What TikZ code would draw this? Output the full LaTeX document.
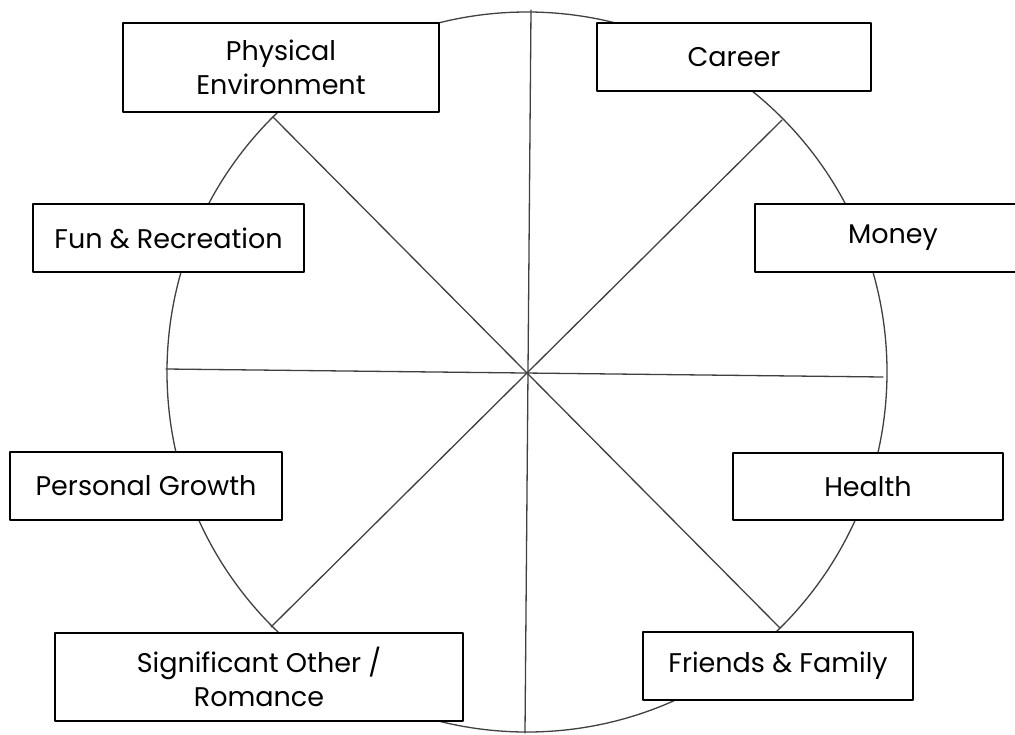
\documentclass[tikz,border=0pt]{standalone}
\usepackage{fontspec}
\setmainfont{Poppins}
\begin{document}
\begin{tikzpicture}[x=1pt,y=-1pt, line join=round, line cap=round,
	box/.style={draw=black, line width=1.6pt, fill=white, inner sep=0pt, align=center, font=\fontsize{27}{34}\selectfont},
	spoke/.style={draw=black!75, line width=1.3pt}]
		\def\cx{527} \def\cy{372} \def\r{360} % tâm và bán kính
		\clip (0,0) rectangle (1015,734);
		\fill[white] (0,0) rectangle (1015,734);
		\coordinate (N) at (531,10);   \coordinate (S) at (525,733);
		\coordinate (W) at (166,369);  \coordinate (E) at (883,377);
		\coordinate (NW) at (273,117); \coordinate (SE) at (780,628);
		\coordinate (NE) at (782,120); \coordinate (SW) at (271,627);
		\draw[spoke] (\cx,\cy) circle (\r pt);
		\draw[spoke] (N)--(S);
		\draw[spoke] (W)--(E);
		\draw[spoke] (NW)--(SE);
		\draw[spoke] (NE)--(SW);
		\node[box, minimum width=316pt, minimum height=89pt] (phys) at (281,67.5) {Physical\\Environment};
		\node[box, minimum width=274pt, minimum height=68pt] (career) at (734,57) {Career};
		\node[box, minimum width=271pt, minimum height=68pt] (fun) at (168.5,238) {Fun \& Recreation};
		\node[box, minimum width=276pt, minimum height=68pt] (money) at (893,238) {Money};
		\node[box, minimum width=272pt, minimum height=68pt] (growth) at (146,486) {Personal Growth};
		\node[box, minimum width=270pt, minimum height=67pt] (health) at (868,486.5) {Health};
		\node[box, minimum width=408pt, minimum height=88pt] (romance) at (259,677) {Significant Other /\\Romance};
		\node[box, minimum width=270pt, minimum height=68pt] (friends) at (778,666) {Friends \& Family};
		\end{tikzpicture}
\end{document}
